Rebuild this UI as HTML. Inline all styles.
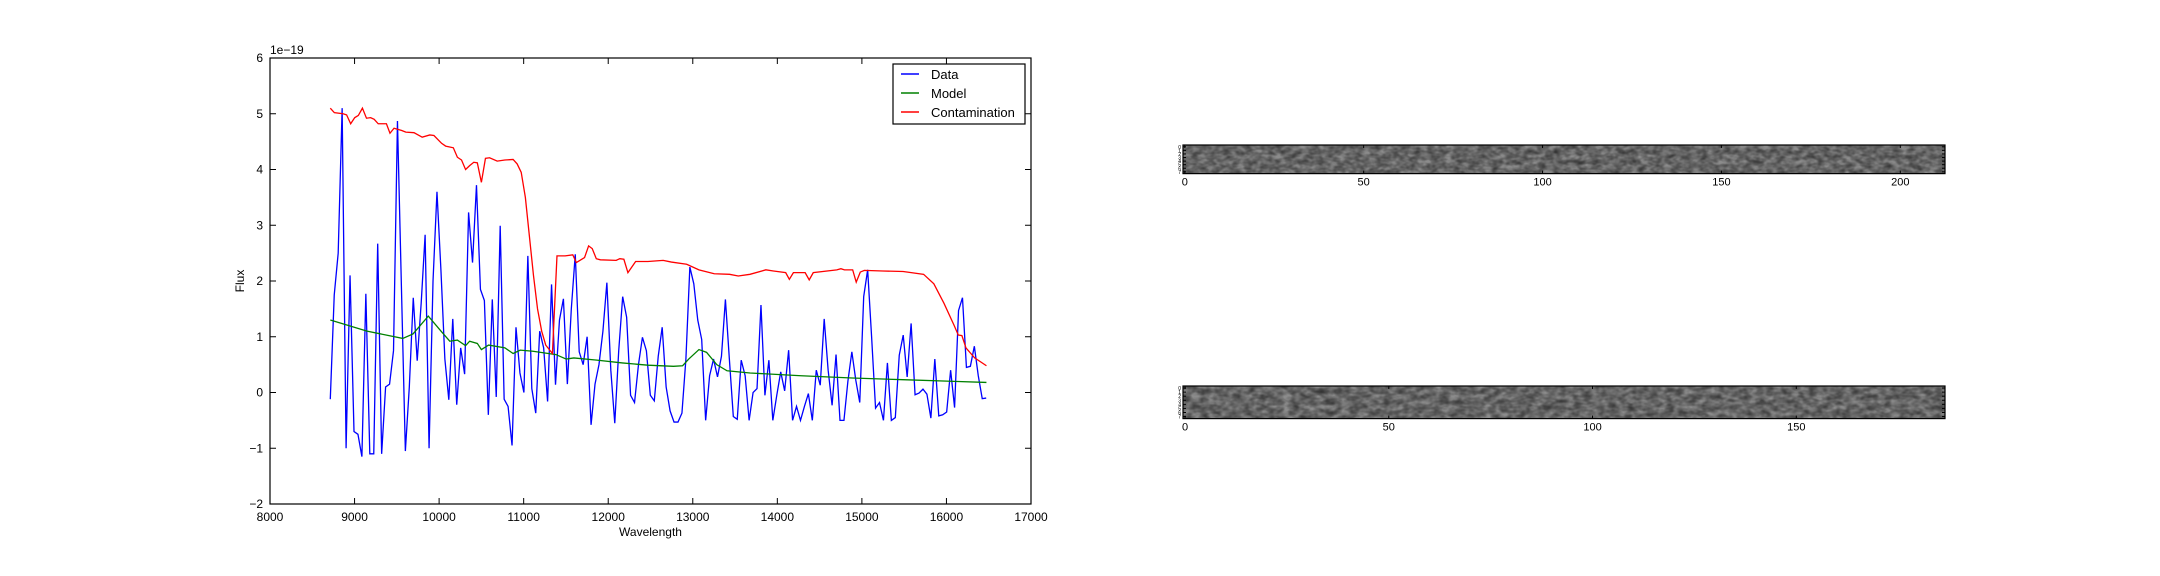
<!DOCTYPE html>
<html><head><meta charset="utf-8"><style>
html,body{margin:0;padding:0;background:#fff;}
svg{display:block;font-family:"Liberation Sans","DejaVu Sans",sans-serif;}
</style></head><body>
<svg id="fig" width="2160" height="576" viewBox="0 0 2160 576" xmlns="http://www.w3.org/2000/svg">
<defs>
<filter id="noise1" x="0" y="0" width="100%" height="100%">
<feTurbulence type="fractalNoise" baseFrequency="0.13 0.2" numOctaves="2" seed="3"/>
<feColorMatrix type="matrix" values="0 0 0 0 0  0 0 0 0 0  0 0 0 0 0  0 0 0 1 0"/>
<feComponentTransfer><feFuncA type="linear" slope="1.8" intercept="-0.5"/></feComponentTransfer>
</filter>
<filter id="noise2" x="0" y="0" width="100%" height="100%">
<feTurbulence type="fractalNoise" baseFrequency="0.12 0.18" numOctaves="2" seed="7"/>
<feColorMatrix type="matrix" values="0 0 0 0 0  0 0 0 0 0  0 0 0 0 0  0 0 0 1 0"/>
<feComponentTransfer><feFuncA type="linear" slope="1.8" intercept="-0.5"/></feComponentTransfer>
</filter>
<filter id="noise1b" x="0" y="0" width="100%" height="100%">
<feTurbulence type="fractalNoise" baseFrequency="0.11 0.2" numOctaves="2" seed="11"/>
<feColorMatrix type="matrix" values="0 0 0 0 0  0 0 0 0 0  0 0 0 0 0  0 0 0 1 0"/>
<feComponentTransfer><feFuncA type="linear" slope="1.8" intercept="-0.55"/></feComponentTransfer>
</filter>
<clipPath id="plotclip"><rect x="270" y="58" width="761" height="446"/></clipPath>
</defs>
<g id="main"></g>
<g id="strips"></g>
</svg>
<script>
const fluxData = [-0.12,1.75,2.5,5.1,-1.0,2.1,-0.7,-0.75,-1.15,1.77,-1.1,-1.1,2.67,-1.1,0.1,0.15,0.75,4.87,1.9,-1.05,0.1,1.7,0.57,1.6,2.83,-1.0,2.0,3.6,2.2,0.6,-0.13,1.32,-0.22,0.8,0.33,3.23,2.33,3.72,1.85,1.65,-0.4,1.67,-0.08,2.99,-0.12,-0.25,-0.95,1.17,0.35,0.0,2.45,0.07,-0.37,1.1,0.8,-0.16,1.94,0.14,1.3,1.68,0.15,1.5,2.48,0.73,0.5,1.0,-0.58,0.15,0.5,1.1,1.97,0.4,-0.55,0.75,1.72,1.35,-0.05,-0.18,0.5,0.99,0.75,-0.05,-0.15,0.65,1.17,0.1,-0.33,-0.53,-0.53,-0.37,0.6,2.25,1.95,1.3,0.95,-0.5,0.3,0.6,0.28,0.65,1.67,0.6,-0.43,-0.48,0.58,0.3,-0.5,0.0,0.07,1.57,-0.05,0.58,-0.5,-0.05,0.37,0.03,0.76,-0.5,-0.25,-0.5,-0.25,-0.02,-0.5,0.4,0.13,1.32,0.4,-0.23,0.68,-0.5,-0.5,0.2,0.73,0.22,-0.18,1.72,2.2,1.0,-0.28,-0.18,-0.5,0.53,-0.5,-0.45,0.67,1.03,0.28,1.24,-0.04,-0.01,0.06,-0.03,-0.46,0.6,-0.42,-0.4,-0.35,0.4,-0.27,1.47,1.7,0.45,0.47,0.83,0.3,-0.11,-0.1];
const dataStart = 8713, dataEnd = 16470;
const modelWave = [8713,9147,9570,9691,9872,10023,10126,10216,10313,10361,10452,10500,10585,10778,10875,10959,11110,11382,11503,11593,11865,12167,12469,12771,12880,12952,13073,13163,13284,13405,13677,14281,14884,15488,16092,16473];
const modelFlux = [1.3,1.1,0.97,1.05,1.37,1.1,0.92,0.94,0.84,0.92,0.88,0.77,0.85,0.8,0.7,0.76,0.74,0.68,0.6,0.62,0.58,0.53,0.49,0.47,0.48,0.6,0.77,0.72,0.5,0.39,0.35,0.3,0.26,0.23,0.2,0.18];
const contWave = [8713,8761,8864,8906,8954,9002,9045,9093,9141,9190,9232,9280,9377,9419,9467,9558,9606,9703,9800,9890,9939,10029,10077,10168,10216,10265,10313,10361,10410,10452,10500,10548,10597,10687,10778,10875,10923,10971,11020,11068,11116,11164,11213,11261,11340,11394,11491,11581,11623,11720,11768,11811,11859,11907,12094,12137,12185,12233,12324,12469,12650,12747,12928,13073,13254,13435,13538,13677,13864,13954,14099,14142,14190,14329,14377,14425,14703,14752,14794,14891,14933,14981,15029,15247,15488,15730,15851,15971,16092,16140,16183,16231,16334,16473];
const contFlux = [5.1,5.02,5.0,4.98,4.82,4.93,4.97,5.1,4.92,4.93,4.9,4.82,4.82,4.65,4.74,4.7,4.67,4.66,4.58,4.62,4.61,4.47,4.42,4.39,4.22,4.17,4.0,4.07,4.13,4.12,3.77,4.2,4.21,4.15,4.17,4.18,4.1,3.95,3.5,2.8,2.1,1.5,1.1,0.85,0.7,2.45,2.45,2.47,2.33,2.42,2.63,2.58,2.4,2.38,2.37,2.4,2.39,2.15,2.35,2.35,2.37,2.34,2.3,2.2,2.13,2.12,2.09,2.12,2.2,2.18,2.15,2.03,2.15,2.15,2.02,2.15,2.2,2.22,2.2,2.2,1.98,2.16,2.19,2.18,2.17,2.12,1.95,1.6,1.2,1.03,1.02,0.8,0.62,0.48];
const xTicks = [8000,9000,10000,11000,12000,13000,14000,15000,16000,17000];
const yTicks = [-2,-1,0,1,2,3,4,5,6];
const strip1Ticks = [0,50,100,150,200];
const strip2Ticks = [0,50,100,150];
const strip1Cols = 213, strip2Cols = 187, stripRows = 8;
const legendLabels = ["Data","Model","Contamination"];

const NS = "http://www.w3.org/2000/svg";
function mk(tag, attrs, parent, text){
  const e = document.createElementNS(NS, tag);
  for (const k in attrs) e.setAttribute(k, attrs[k]);
  if (text !== undefined) e.textContent = text;
  parent.appendChild(e);
  return e;
}
const L = 270, R = 1031, T = 58, B = 504;
const xs = v => L + (v - 8000) / 9000 * (R - L);
const ys = v => B - (v + 2) / 8 * (B - T);
const main = document.getElementById('main');

function drawLine(wave, flux, color, name){
  const d = wave.map((w,i)=>(i?'L':'M')+xs(w).toFixed(2)+','+ys(flux[i]).toFixed(2)).join(' ');
  const p = mk('path', {d:d, fill:'none', stroke:color, 'stroke-width':1.3, 'clip-path':'url(#plotclip)'}, main);
  
  
}
const dataWave = fluxData.map((_,i)=> dataStart + i*(dataEnd-dataStart)/(fluxData.length-1));
drawLine(dataWave, fluxData, '#0000ff', 'data-line');
drawLine(modelWave, modelFlux, '#008000', 'model-line');
drawLine(contWave, contFlux, '#ff0000', 'contamination-line');

const fr = mk('rect', {x:L, y:T, width:R-L, height:B-T, fill:'none', stroke:'#000', 'stroke-width':1.2}, main);



xTicks.forEach(v=>{
  const x = xs(v);
  mk('line',{x1:x,y1:B,x2:x,y2:B-6,stroke:'#000'},main);
  mk('line',{x1:x,y1:T,x2:x,y2:T+6,stroke:'#000'},main);
  const t = mk('text',{x:x,y:B+17,'font-size':12,'text-anchor':'middle',fill:'#000'},main,String(v));
  
  
});
yTicks.forEach(v=>{
  const y = ys(v);
  mk('line',{x1:L,y1:y,x2:L+6,y2:y,stroke:'#000'},main);
  mk('line',{x1:R,y1:y,x2:R-6,y2:y,stroke:'#000'},main);
  const t = mk('text',{x:L-7,y:y+4,'font-size':12,'text-anchor':'end',fill:'#000'},main,v<0?'\u2212'+(-v):String(v));
  
  
});
const off = mk('text',{x:L,y:T-4,'font-size':12,fill:'#000'},main,'1e\u221219');


const xl = mk('text',{x:(L+R)/2,y:B+32,'font-size':12,'text-anchor':'middle',fill:'#000'},main,'Wavelength');


const yl = mk('text',{x:0,y:0,'font-size':12,'text-anchor':'middle',fill:'#000',transform:'translate(244,'+((T+B)/2)+') rotate(-90)'},main,'Flux');



const lg = mk('g',{},main);


mk('rect',{x:893,y:64,width:132,height:60,fill:'#fff',stroke:'#000','stroke-width':1.2},lg);
const legColors = ['#0000ff','#008000','#ff0000'];
legendLabels.forEach((lab,i)=>{
  const y = 74 + i*19;
  const e = mk('g',{},lg);
  
  
  mk('line',{x1:901,y1:y,x2:919,y2:y,stroke:legColors[i],'stroke-width':1.4},e);
  mk('text',{x:931,y:y+5,'font-size':13,fill:'#000'},e,lab);
});

const strips = document.getElementById('strips');
function strip(y0, cols, ticks, filt, name){
  const x0 = 1183, w = 762;
  const h = w / cols * stripRows;
  const unit = w / cols;
  const g = mk('g',{},strips);
  
  
  mk('rect',{x:x0,y:y0,width:w,height:h,fill:'#8c8c8c'},g);
  mk('rect',{x:x0,y:y0,width:w,height:h,fill:'#000',filter:'url(#'+filt+')',opacity:0.45},g);
  mk('rect',{x:x0,y:y0,width:w,height:h,fill:'#fff',filter:'url(#noise1b)',opacity:0.35},g);
  mk('rect',{x:x0,y:y0,width:w,height:h,fill:'none',stroke:'#000','stroke-width':1.2},g);
  ticks.forEach(v=>{
    const x = x0 + (v+0.5)*unit;
    mk('line',{x1:x,y1:y0+h,x2:x,y2:y0+h-3,stroke:'#000'},g);
    mk('line',{x1:x,y1:y0,x2:x,y2:y0+3,stroke:'#000'},g);
    const t = mk('text',{x:x,y:y0+h+12,'font-size':11,'text-anchor':'middle',fill:'#000'},g,String(v));
    
    
  });
  for (let r=0;r<stripRows;r++){
    const y = y0 + (r+0.5)*unit;
    mk('line',{x1:x0,y1:y,x2:x0+3,y2:y,stroke:'#000'},g);
    mk('line',{x1:x0+w,y1:y,x2:x0+w-3,y2:y,stroke:'#000'},g);
    mk('text',{x:x0-2,y:y+2,'font-size':5,'text-anchor':'end',fill:'#000'},g,String(r));
  }
}
strip(145, strip1Cols, strip1Ticks, 'noise1', 'image-strip-top');
strip(386, strip2Cols, strip2Ticks, 'noise2', 'image-strip-bottom');
</script>
</body></html>
